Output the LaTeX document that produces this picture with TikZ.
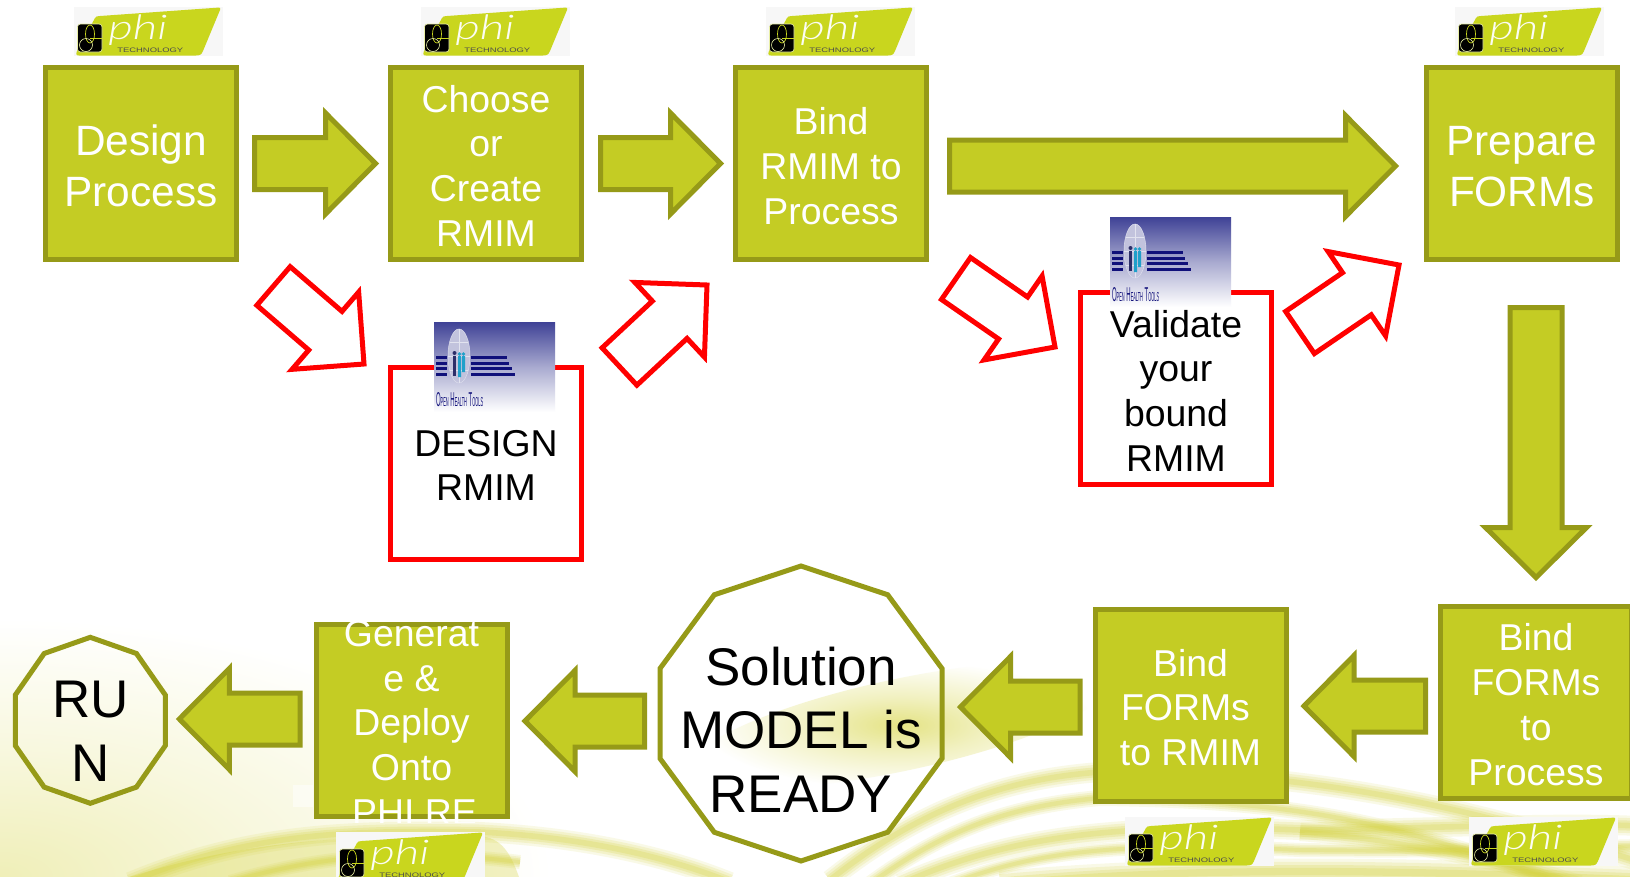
\documentclass[tikz,border=0pt]{standalone}
\usepackage{fontspec}
\setmainfont{Liberation Sans}
\newfontfamily\philight{Lato Light Italic}
\usetikzlibrary{calc}
\definecolor{boxfill}{HTML}{C4CC24}
\definecolor{boxline}{HTML}{969A18}
\definecolor{logogreen}{HTML}{C9D61E}
\definecolor{swoosh}{HTML}{D4D23A}
\definecolor{ohtblue}{HTML}{3F4296}
\definecolor{ohtnavy}{HTML}{10107A}
\pgfdeclareradialshading{washglow}{\pgfpoint{0bp}{0bp}}{color(0bp)=(swoosh!36!white); color(11bp)=(swoosh!17!white); color(23bp)=(white); color(50bp)=(white)}
\pgfdeclareradialshading{streakglow}{\pgfpoint{0bp}{0bp}}{color(0bp)=(swoosh!62!white); color(10bp)=(swoosh!32!white); color(23bp)=(white); color(50bp)=(white)}
\tikzset{
  greenbox/.style={draw=boxline,fill=boxfill,line width=5pt,inner sep=0pt,text=white,minimum width=191pt,minimum height=192pt},
  redbox/.style={draw=red,line width=5pt,inner sep=0pt,text=black,minimum width=191pt,minimum height=192pt},
  ringnode/.style={inner sep=0pt,outer sep=0pt,text=black},
  ringline/.style={draw=boxline,line width=5pt,line join=miter},
  greenarrow/.style={draw=boxline,fill=boxfill,line width=5pt,line join=miter,miter limit=10},
  redarrow/.style={draw=red,line width=5pt,line join=miter,miter limit=10},
}
\newcommand\boxlines[4]{\raisebox{#3pt}[0pt][0pt]{\makebox[0pt]{\fontsize{#1pt}{#2pt}\selectfont\begin{tabular}[t]{@{}c@{}}#4\end{tabular}}}}
% style, tail, tip, head length, half shaft, half head
\newcommand\blockarrow[6]{%
  \coordinate (ta) at #2; \coordinate (ti) at #3;
  \coordinate (ba) at ($(ti)!#4pt!(ta)$);
  \draw[#1] ($(ta)!#5pt!90:(ti)$) -- ($(ba)!#5pt!90:(ti)$) -- ($(ba)!#6pt!90:(ti)$) -- (ti)
     -- ($(ba)!#6pt!-90:(ti)$) -- ($(ba)!#5pt!-90:(ti)$) -- ($(ta)!#5pt!-90:(ti)$) -- cycle;}
\newcommand\ringpath[3]{% node, half width, half height
  \draw[ringline] ($(#1.center)+(0,-#3)$)
   -- ($(#1.center)+(.615*#2,-.805*#3)$) -- ($(#1.center)+(#2,-.305*#3)$) -- ($(#1.center)+(#2,.305*#3)$)
   -- ($(#1.center)+(.615*#2,.805*#3)$) -- ($(#1.center)+(0,#3)$) -- ($(#1.center)+(-.615*#2,.805*#3)$)
   -- ($(#1.center)+(-#2,.305*#3)$) -- ($(#1.center)+(-#2,-.305*#3)$) -- ($(#1.center)+(-.615*#2,-.805*#3)$) -- cycle;}
\newcommand\philogo[3]{\begin{scope}[shift={(#2,#3)}]
  \fill[white!97!black] (0,0) rectangle (149,49);
  \fill[logogreen] (21,11) .. controls (22,9.5) and (23,9) .. (26,9) -- (143,0.7) .. controls (146,0.5) and (147,1) .. (146,3)
     -- (129,44) .. controls (127.5,47.5) and (126,48.5) .. (122,48.5) -- (5,48.5) .. controls (2,48.5) and (2,47) .. (3,44) -- cycle;
  \fill[black,draw=white!60!logogreen,line width=.6pt,rounded corners=3pt] (3.5,17) rectangle (28,45);
  \draw[logogreen,line width=.7pt] (16,27) ellipse [x radius=4.5,y radius=9];
  \draw[logogreen!40!white,line width=.6pt] (12,38) circle [radius=6.5];
  \draw[logogreen,line width=.6pt] (16,31) -- (28,31);
  \node[inner sep=0pt,anchor=base west,xscale=1.4,text=white!95!logogreen] (#1p) at (34,32.5) {\fontsize{34pt}{34pt}\selectfont\philight phi};
  \node[inner sep=0pt,anchor=base west,xscale=1.45,text=black!70] (#1t) at (43,45) {\fontsize{6.5pt}{7pt}\selectfont TECHNOLOGY};
\end{scope}}
\newcommand\ohtlogo[3]{\begin{scope}[shift={(#2,#3)}]
  \shade[top color=ohtblue,bottom color=white,middle color=ohtblue!45!white] (0,0) rectangle (121,90);
  \fill[white!68!ohtblue,draw=white!82!ohtblue,line width=.5pt] (25,34) ellipse [x radius=11,y radius=27];
  \draw[white!85!ohtblue,line width=.3pt] (25,7) -- (25,61) (14,34) -- (36,34) (16,20) -- (34,20) (16,48) -- (34,48);
  \foreach \yy/\xx in {35/73,41/75,46.5/78,52/81}{
    \fill[ohtnavy] (2,\yy-1.5) rectangle (13,\yy+1.5);
    \fill[ohtnavy] (37,\yy-1.5) rectangle (\xx,\yy+1.5);}
  \fill[black!30!ohtblue] (20.5,31) circle [radius=2];
  \fill[black!30!ohtblue] (18.8,33.5) rectangle (22.2,54);
  \fill[ohtblue!50!cyan] (25.5,32) circle [radius=1.8] (29.5,32) circle [radius=1.8];
  \fill[ohtblue!50!cyan] (24,34) rectangle (27,55) (28,34) rectangle (31,50);
  \node[inner sep=0pt,anchor=base west,xscale=.3,text=ohtnavy] (#1t) at (2,84) {\fontsize{20pt}{20pt}\selectfont O{\fontsize{13pt}{13pt}\selectfont PEN} H{\fontsize{13pt}{13pt}\selectfont EALTH} T{\fontsize{13pt}{13pt}\selectfont OOLS}};
\end{scope}}
\newcommand\band[2]{% width, path
  \draw[swoosh,opacity=.12,line width=#1pt] #2;
  \draw[swoosh,opacity=.16,line width=.75*#1pt] #2;
  \draw[swoosh,opacity=.2,line width=.5*#1pt] #2;
  \draw[swoosh,opacity=.22,line width=.28*#1pt] #2;}
\begin{document}
\begin{tikzpicture}[x=1pt,y=-1pt]
\useasboundingbox (0,0) rectangle (1630,876);
\clip (0,0) rectangle (1630,876);
\fill[white] (0,0) rectangle (1630,876);
% background wash and swooshes
\shade[shading=washglow] (0,876) ellipse [x radius=600,y radius=280];
\shade[shading=streakglow,rotate around={12:(900,725)}] (900,725) ellipse [x radius=215,y radius=46];
\fill[swoosh,opacity=.3] (120,880) .. controls (250,838) and (350,836) .. (480,836) .. controls (500,838) and (510,850) .. (520,880) -- cycle;
\band{20}{(130,882) .. controls (250,832) and (350,830) .. (480,832) .. controls (560,836) and (650,850) .. (730,882)}
\band{14}{(230,882) .. controls (330,852) and (420,850) .. (520,862)}
\band{20}{(830,880) .. controls (930,800) and (1020,778) .. (1100,772) .. controls (1290,770) and (1450,800) .. (1640,862)}
\band{16}{(870,884) .. controls (950,825) and (1020,805) .. (1100,798) .. controls (1290,800) and (1400,822) .. (1560,884)}
\band{20}{(900,884) .. controls (1000,840) and (1100,822) .. (1300,830) .. controls (1450,828) and (1550,822) .. (1640,826)}
\band{14}{(950,884) .. controls (1040,850) and (1120,842) .. (1300,850) .. controls (1450,852) and (1550,848) .. (1640,846)}
\band{26}{(1000,884) .. controls (1200,866) and (1400,870) .. (1640,880)}
\band{18}{(1300,832) .. controls (1400,840) and (1500,860) .. (1580,884)}
\fill[white,opacity=.5] (293,785) rectangle (313,807);
% upper boxes
\node[greenbox] (design) at (141,163.5) {\boxlines{42.4}{51}{8.5}{Design\\Process}};
\node[greenbox] (choose) at (486,163.5) {\boxlines{37.4}{44.7}{51.5}{Choose\\or\\Create\\RMIM}};
\node[greenbox] (bind) at (831,163.5) {\boxlines{37.4}{45}{29.5}{Bind\\RMIM to\\Process}};
\node[greenbox] (prepare) at (1522,163.5) {\boxlines{42.4}{51}{8.5}{Prepare\\FORMs}};
% red boxes
\node[redbox] (designrmim) at (486,463.5) {\boxlines{37.4}{44.7}{7.5}{DESIGN\\RMIM}};
\node[redbox] (validate) at (1176,388.5) {\boxlines{37.4}{44.7}{51.5}{Validate\\your\\bound\\RMIM}};
% lower boxes
\node[greenbox] (bindproc) at (1536,702.5) {\boxlines{37.4}{45}{52}{Bind\\FORMs\\to\\Process}};
\node[greenbox] (bindrmim) at (1190.5,705.5) {\boxlines{37.4}{44.7}{29.5}{Bind\\FORMs\hspace*{10pt}\\to RMIM}};
\begin{scope}
  \clip (300,622) rectangle (530,822);
  \node[greenbox] (generate) at (411.5,720.5) {\boxlines{37.4}{44.7}{74}{Generat\\e \&\\Deploy\\Onto\\\hspace*{6pt}PHI RE}};
\end{scope}
\node[ringnode,minimum width=282pt,minimum height=295pt] (solution) at (801,713.5) {\boxlines{53}{63.8}{28.5}{Solution\\MODEL is\\READY}};
\ringpath{solution}{141}{147.5}
\node[ringnode,minimum width=150pt,minimum height=166pt] (run) at (90.3,720.3) {\boxlines{53}{64}{3.3}{RU\\N}};
\ringpath{run}{75}{83}
% green arrows
\blockarrow{greenarrow}{($(design.east)+(15.5,0)$)}{($(choose.west)+(-12.5,0)$)}{50}{26}{50.5}
\blockarrow{greenarrow}{($(choose.east)+(16.5,0)$)}{($(bind.west)+(-12.5,0)$)}{50}{26}{50.5}
\blockarrow{greenarrow}{($(bind.east)+(20.5,2.5)$)}{($(prepare.west)+(-28.5,2.5)$)}{50}{26}{50.5}
\blockarrow{greenarrow}{($(prepare.south)+(14,45.5)$)}{($(bindproc.north)+(0,-26.5)$)}{50}{26}{50.5}
\blockarrow{greenarrow}{($(bindproc.west)+(-12.5,3.5)$)}{($(bindrmim.east)+(15.5,.5)$)}{50}{26}{50.5}
\blockarrow{greenarrow}{($(bindrmim.west)+(-12.5,1.5)$)}{($(solution.east)+(18.5,-6.5)$)}{50}{26}{50.5}
\blockarrow{greenarrow}{($(solution.west)+(-15.5,7.5)$)}{($(generate.east)+(15.5,.5)$)}{50}{26}{50.5}
\blockarrow{greenarrow}{($(generate.west)+(-13.5,-1.5)$)}{($(run.east)+(14,-1.3)$)}{50}{26}{50.5}
% red arrows
\blockarrow{redarrow}{($(design.south east)+(34.5,24)$)}{($(designrmim.north west)+(-24,-1)$)}{51}{25.5}{51}
\blockarrow{redarrow}{($(designrmim.north east)+(35.5,1.5)$)}{($(bind.south west)+(-26,23)$)}{51}{25.5}{51}
\blockarrow{redarrow}{($(bind.south east)+(27,16.5)$)}{($(validate.north west)+(-23,57)$)}{51}{25.5}{51}
\blockarrow{redarrow}{($(validate.north east)+(26,42.5)$)}{($(prepare.south west)+(-25,3)$)}{51}{25.5}{51}
% logos
\philogo{la}{74}{7}
\philogo{lb}{421}{7}
\philogo{lc}{766}{7}
\philogo{ld}{1455}{7}
\philogo{le}{336}{832}
\philogo{lf}{1125}{817}
\philogo{lg}{1469}{817}
\ohtlogo{oa}{434}{322}
\ohtlogo{ob}{1110}{217}
\end{tikzpicture}
\end{document}
